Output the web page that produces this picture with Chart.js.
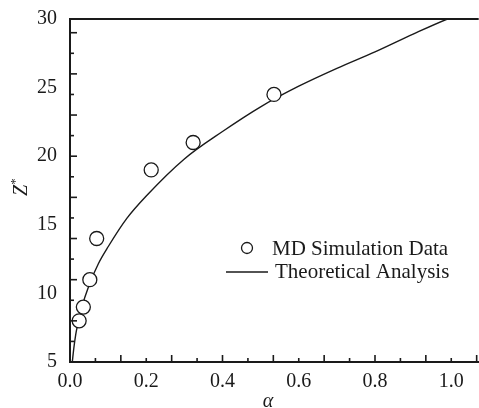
<!DOCTYPE html>
<html>
<head>
<meta charset="utf-8">
<script src="https://cdn.jsdelivr.net/npm/chart.js@4.4.0/dist/chart.umd.min.js"></script>
<style>
  body { margin: 0; background: #fff; overflow: hidden; }
  /* canvas is a bit wider than the window so the plot box runs off the right edge like the original */
  #wrap { width: 479px; height: 408px; overflow: hidden; }
  #zChart { display: block; }
</style>
</head>
<body>
<div id="wrap"><canvas id="zChart" width="487" height="408"></canvas></div>
<script>
// MD simulation points (alpha, Z*)
const mdAlpha = [0.024, 0.035, 0.052, 0.070, 0.213, 0.323, 0.535];
const mdZ = [8.0, 9.0, 11.0, 14.0, 19.0, 21.0, 24.5];

// theoretical curve
const theoryAlpha = [0.006, 0.01, 0.015, 0.02, 0.03, 0.05, 0.075, 0.1, 0.15, 0.2, 0.3, 0.4, 0.5, 0.6, 0.7, 0.8, 0.9, 0.99, 1.07];
const theoryZ = [5.0, 6.0, 7.0, 7.7, 8.9, 10.6, 12.2, 13.4, 15.5, 17.1, 19.8, 21.8, 23.6, 25.1, 26.4, 27.6, 28.9, 30.0, 30.8];

// tick labels
const xTickLabels = [0.0, 0.2, 0.4, 0.6, 0.8, 1.0];
const yTickLabels = [5, 10, 15, 20, 25, 30];

const FONT = "'Liberation Serif', 'Times New Roman', serif";
const INK = '#1a1a1a';

// inward tick marks + top frame line + legend + axis titles
const decorPlugin = {
    id: 'decor',
    afterDraw(chart) {
        const ctx = chart.ctx;
        const a = chart.chartArea;
        const xs = chart.scales.x;
        const ys = chart.scales.y;
        ctx.save();
        ctx.strokeStyle = INK;
        ctx.lineWidth = 1.6;

        // x tick marks every 1/15, long on even ones
        for (let j = 1; j <= 16; j++) {
            const px = xs.getPixelForValue(j / 15);
            if (px > a.right) break;
            const len = (j % 2 === 0) ? 7 : 4;
            ctx.beginPath();
            ctx.moveTo(px, a.bottom);
            ctx.lineTo(px, a.bottom - len);
            ctx.stroke();
        }
        // y tick marks every 1.5, long on 29, 26, 23 ...
        for (let k = 0; k < 16; k++) {
            const v = 29 - k * 1.5;
            if (v <= 5) break;
            const py = ys.getPixelForValue(v);
            const len = (k % 2 === 0) ? 7 : 4;
            ctx.beginPath();
            ctx.moveTo(a.left, py);
            ctx.lineTo(a.left + len, py);
            ctx.stroke();
        }

        // top frame
        ctx.lineWidth = 2;
        ctx.beginPath();
        ctx.moveTo(a.left, a.top);
        ctx.lineTo(a.right, a.top);
        ctx.stroke();

        // legend
        const lx = a.left + 177;
        const ly = a.top + 229;
        ctx.lineWidth = 1.3;
        ctx.fillStyle = '#fff';
        ctx.beginPath();
        ctx.arc(lx, ly, 5.5, 0, Math.PI * 2);
        ctx.fill();
        ctx.stroke();
        ctx.beginPath();
        ctx.moveTo(lx - 21, ly + 24);
        ctx.lineTo(lx + 21, ly + 24);
        ctx.stroke();
        ctx.fillStyle = INK;
        ctx.font = '21px ' + FONT;
        ctx.textBaseline = 'middle';
        ctx.textAlign = 'left';
        ctx.fillText('MD Simulation Data', lx + 25, ly + 1);
        ctx.fillText('Theoretical Analysis', lx + 28, ly + 24);

        // x title
        ctx.textAlign = 'center';
        ctx.font = 'italic 20px ' + FONT;
        ctx.fillText('α', a.left + 198, chart.height - 6);

        // y title Z*
        ctx.translate(22, (a.top + a.bottom) / 2);
        ctx.rotate(-Math.PI / 2);
        ctx.font = 'italic 20px ' + FONT;
        ctx.fillText('Z', 0, 0);
        ctx.font = '13px ' + FONT;
        ctx.fillText('*', 9, -6);
        ctx.restore();
    }
};

const ctx = document.getElementById('zChart').getContext('2d');
const zChart = new Chart(ctx, {
    type: 'scatter',
    data: {
        datasets: [
            {
                label: 'MD Simulation Data',
                data: mdAlpha.map((x, i) => ({ x: x, y: mdZ[i] })),
                pointStyle: 'circle',
                pointRadius: 7,
                pointBorderWidth: 1.3,
                pointBorderColor: INK,
                pointBackgroundColor: '#fff',
                showLine: false,
                order: 0
            },
            {
                label: 'Theoretical Analysis',
                data: theoryAlpha.map((x, i) => ({ x: x, y: theoryZ[i] })),
                showLine: true,
                borderColor: INK,
                borderWidth: 1.4,
                pointRadius: 0,
                cubicInterpolationMode: 'monotone',
                order: 1
            }
        ]
    },
    options: {
        responsive: false,
        animation: false,
        layout: { padding: { top: 19, right: 0, left: 0, bottom: 0 } },
        plugins: {
            legend: { display: false },
            tooltip: { enabled: false }
        },
        scales: {
            x: {
                type: 'linear',
                min: 0,
                max: 1.072,
                afterBuildTicks: (scale) => {
                    scale.ticks = xTickLabels.map(v => ({ value: v }));
                },
                afterFit: (scale) => {
                    scale.height = 46;
                    scale.paddingLeft = 0;
                    scale.paddingRight = 0;
                },
                grid: { display: false, drawTicks: false },
                border: { display: true, color: INK, width: 2 },
                ticks: {
                    color: INK,
                    padding: 8,
                    maxRotation: 0,
                    font: { family: FONT, size: 20 },
                    callback: (v) => Number(v).toFixed(1)
                }
            },
            y: {
                type: 'linear',
                min: 5,
                max: 30,
                afterBuildTicks: (scale) => {
                    scale.ticks = yTickLabels.map(v => ({ value: v }));
                },
                afterFit: (scale) => {
                    scale.width = 70;
                    scale.paddingTop = 0;
                    scale.paddingBottom = 0;
                },
                grid: { display: false, drawTicks: false },
                border: { display: true, color: INK, width: 2 },
                ticks: {
                    color: INK,
                    padding: 13,
                    font: { family: FONT, size: 20 }
                }
            }
        }
    },
    plugins: [decorPlugin]
});
</script>
</body>
</html>
